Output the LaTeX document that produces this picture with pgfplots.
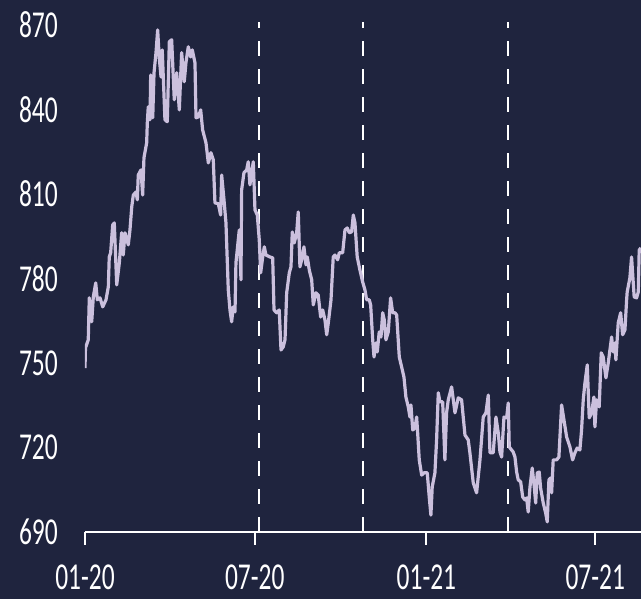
\documentclass[border=0pt]{standalone}
\usepackage{pgfplots}
\pgfplotsset{compat=1.18}
\usepackage{fontspec}
\setmainfont{Carlito}[FakeStretch=0.67]
\definecolor{bg}{RGB}{31,36,62}
\definecolor{ln}{RGB}{203,192,221}
\pgfplotstableread{
d v
0 748.2
0.5 755.3
3.5 758.2
4.6 773.1
7.2 764.6
8.9 773.4
11.5 778.4
13.2 772.4
16.1 773.1
19.0 769.9
22.5 772.4
25.0 777.0
26.0 787.6
27.5 789.1
29.7 799.0
31.4 799.7
34.0 777.7
36.8 785.5
39.3 796.2
41.0 788.3
42.9 796.2
46.4 791.9
48.2 797.2
50.1 805.4
51.8 809.6
54.7 810.7
56.1 807.9
57.1 816.7
60.0 818.5
61.8 809.6
63.2 822.8
66.1 828.1
66.8 835.2
67.8 840.9
69.7 836.3
70.4 852.2
72.6 837.0
74.0 853.0
76.1 860.1
77.9 868.2
79.6 858.3
81.5 851.5
82.8 861.1
85.7 836.3
88.2 835.6
90.4 864.0
92.9 864.7
95.7 843.4
98.3 853.0
101.1 839.8
103.6 860.1
106.4 849.8
108.2 856.5
110.7 862.2
113.3 858.6
115.0 861.1
117.9 856.5
119.0 837.0
121.4 837.3
124.0 839.8
126.1 832.7
129.7 828.1
132.2 821.0
135.0 824.6
137.5 822.1
139.3 806.8
142.9 806.5
145.4 802.5
146.5 816.7
149.0 807.9
151.1 799.7
153.6 775.9
155.4 768.8
157.2 764.6
158.9 769.9
160.8 768.1
161.8 785.5
164.3 793.7
165.4 797.2
167.2 779.5
167.9 811.4
170.4 817.5
173.3 818.5
175.0 821.4
176.8 813.2
178.7 817.5
180.4 821.4
182.2 804.3
184.7 802.5
186.8 793.7
188.3 782.0
190.5 787.6
192.2 791.2
194.0 788.3
198.3 787.6
201.2 787.3
202.6 768.8
205.5 767.8
208.2 768.8
210.1 754.6
212.5 755.7
214.4 758.2
216.2 774.9
219.0 782.0
220.8 784.1
222.2 796.5
224.3 792.6
226.9 796.2
228.6 803.6
230.4 784.1
232.3 786.6
234.7 791.2
236.9 784.8
238.3 787.6
240.4 783.0
243.0 779.5
244.7 770.6
247.6 774.9
250.0 774.1
252.6 766.3
254.8 768.8
257.2 765.3
259.1 760.0
260.8 764.2
263.7 772.4
266.1 787.6
267.9 788.3
270.8 786.6
272.6 789.1
276.2 789.1
278.7 797.2
281.1 797.9
283.3 796.2
285.8 796.5
287.6 802.5
289.4 799.7
291.8 787.6
294.7 783.0
297.6 778.8
300.1 775.9
301.9 772.4
304.7 772.4
306.2 770.6
308.4 758.2
309.8 752.1
311.9 757.1
313.3 753.9
315.4 761.0
317.3 759.2
319.1 767.8
320.8 765.3
322.6 758.2
325.1 761.0
327.6 773.1
329.8 767.8
332.3 767.8
334.1 767.0
336.9 752.1
339.4 748.6
341.9 745.0
344.0 737.9
346.5 734.4
348.3 730.8
349.4 735.1
351.3 726.2
353.7 726.9
355.5 730.8
356.6 725.2
358.3 715.6
360.9 710.2
363.3 711.0
366.9 711.0
369.0 702.4
370.8 696.0
372.2 706.0
375.1 711.0
376.9 722.7
378.7 739.4
380.5 736.2
383.4 736.2
385.8 715.6
387.6 732.3
389.4 736.9
393.0 741.5
396.6 732.3
400.1 737.6
403.7 736.9
407.3 724.4
410.8 722.7
412.6 718.1
416.2 707.4
419.8 703.9
423.4 715.6
426.9 730.8
429.8 732.3
432.3 738.6
434.1 718.1
437.6 718.1
440.5 730.8
443.0 725.2
444.8 718.4
446.6 716.6
449.1 730.8
452.0 730.5
453.7 735.8
454.8 720.2
457.3 719.1
459.0 718.4
460.9 716.6
462.7 711.3
464.4 708.5
467.0 707.8
469.2 702.4
471.6 701.4
473.4 702.1
475.1 697.1
477.0 706.0
479.4 712.7
481.6 706.0
483.1 700.3
484.8 711.0
486.9 711.3
488.4 705.6
491.2 700.3
493.8 696.8
495.5 693.6
497.3 708.5
499.1 709.2
500.2 703.9
501.9 715.6
505.6 715.6
508.0 716.6
510.9 735.1
513.4 729.8
516.3 723.7
519.8 720.2
522.7 715.6
525.2 718.1
527.6 719.8
530.5 719.1
532.3 726.2
534.1 736.9
535.9 742.9
538.4 749.3
540.5 730.5
543.1 732.3
545.5 737.9
546.6 727.3
548.4 736.9
551.2 734.4
553.4 753.6
555.5 752.1
558.4 744.7
560.9 750.0
564.5 759.2
566.2 753.9
568.0 757.1
569.1 751.1
571.6 764.2
574.2 767.8
576.3 760.0
578.8 761.7
580.6 772.4
581.2 775.2
584.1 780.2
585.9 787.6
588.7 773.4
591.3 773.1
593.1 775.2
594.1 790.1
595.9 790.8
}\series
\begin{document}
\begin{tikzpicture}
\fill[bg] (-85pt,-67pt) rectangle (556pt,532pt);
\useasboundingbox (-85pt,-67pt) rectangle (556pt,532pt);
\begin{axis}[
  at={(0pt,0pt)}, anchor=south west,
  scale only axis, width=556pt, height=510pt,
  xmin=0, xmax=596, ymin=690, ymax=871,
  axis x line*=bottom, axis y line*=left,
  x axis line style={white, line width=2.5pt},
  y axis line style={draw=none},
  xtick={0,182,366,547},
  xticklabels={01-20,07-20,01-21,07-21},
  ytick={690,720,750,780,810,840,870},
  major tick length=13pt,
  xtick align=outside,
  ytick align=inside,
  xtick style={white, line width=2pt},
  ytick style={draw=none},
  /pgf/number format/assume math mode=true,
  /pgf/number format/1000 sep={},
  ticklabel style={font=\fontsize{38}{40}\selectfont, text=white, inner sep=0pt},
  yticklabel style={anchor=east, xshift=-27pt},
  xticklabel style={anchor=north, yshift=-20pt},
  clip=true,
]
\addplot[white, line width=2pt, dash pattern=on 15pt off 13pt] coordinates {(186.8,690) (186.8,871)};
\addplot[white, line width=2pt, dash pattern=on 15pt off 13pt] coordinates {(297.6,690) (297.6,871)};
\addplot[white, line width=2pt, dash pattern=on 15pt off 13pt] coordinates {(453.7,690) (453.7,871)};
\addplot[ln, line width=3.2pt, line join=round] table[x=d, y=v] {\series};
\end{axis}
\end{tikzpicture}
\end{document}
